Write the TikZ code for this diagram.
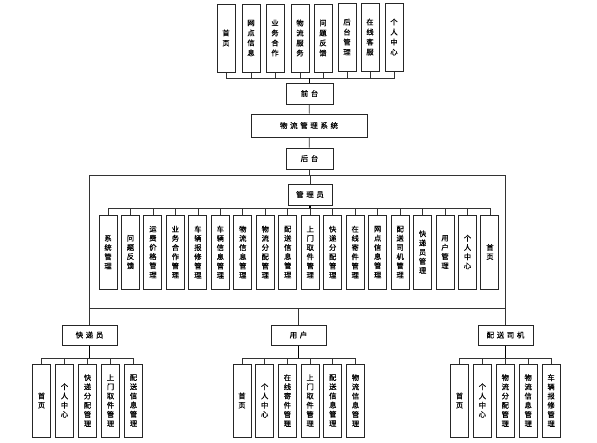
\documentclass[tikz,border=0pt]{standalone}
\usepackage{fontspec}
\newfontfamily\cjk[FakeBold=0.5]{Noto Sans CJK SC}
\newcommand\vfont{\cjk\fontsize{7.3}{10}\selectfont}
\newcommand\vfontb{\cjk\fontsize{7.3}{9.2}\selectfont}
\newcommand\hfont{\cjk\fontsize{7.5}{9}\selectfont}
\newcommand\gp{\hspace{2.6pt}}
\begin{document}
\begin{tikzpicture}[x=1pt,y=-1pt,
  vbox/.style={draw=black!85, line width=1pt, minimum width=18pt, inner sep=0pt, align=center, font=\vfont},
  vboxs/.style={vbox, font=\vfontb},
  hbox/.style={draw=black!85, line width=1pt, inner sep=0pt, font=\hfont},
  conn/.style={line width=0.7pt, draw=black!80},
  stem/.style={line width=1.3pt, draw=black}]
\useasboundingbox (0,0) rectangle (597,442);
% top row
\node[vbox, minimum height=68pt] (t1) at (226,38) {首\\页};
\node[vbox, minimum height=68pt] (t2) at (251,38) {网\\点\\信\\息};
\node[vbox, minimum height=68pt] (t3) at (275,38) {业\\务\\合\\作};
\node[vbox, minimum height=68pt] (t4) at (300,38) {物\\流\\服\\务};
\node[vbox, minimum height=68pt] (t5) at (323,38) {问\\题\\反\\馈};
\node[vbox, minimum height=68pt] (t6) at (347,37) {后\\台\\管\\理};
\node[vbox, minimum height=68pt] (t7) at (370,37) {在\\线\\客\\服};
\node[vbox, minimum height=68pt] (t8) at (394,37) {个\\人\\中\\心};
\node[hbox, minimum width=47pt, minimum height=21pt] (qt) at (309.5,93.5) {前\gp 台};
\node[hbox, minimum width=116pt, minimum height=23pt] (sys) at (309,125.5) {物\gp 流\gp 管\gp 理\gp 系\gp 统};
\node[hbox, minimum width=47pt, minimum height=21pt] (ht) at (309.5,158.5) {后\gp 台};
\coordinate (tb) at (309.5,78);
\draw[conn] (t1.south) -- (t1.south |- tb) -- (t8.south |- tb) -- (t8.south);
\foreach \i in {2,...,7} \draw[conn] (t\i.south) -- (t\i.south |- tb);
\draw[stem] (tb) -- (qt.north);
\draw[conn] (qt) -- (sys);
\draw[conn] (sys) -- (ht);
% admin
\node[hbox, minimum width=44pt, minimum height=21pt] (adm) at (310,194.5) {管\gp 理\gp 员};
\foreach \t [count=\i] in {系\\统\\管\\理, 问\\题\\反\\馈, 运\\费\\价\\格\\管\\理, 业\\务\\合\\作\\管\\理, 车\\辆\\报\\修\\管\\理, 车\\辆\\信\\息\\管\\理, 物\\流\\信\\息\\管\\理, 物\\流\\分\\配\\管\\理, 配\\送\\信\\息\\管\\理, 上\\门\\取\\件\\管\\理, 快\\递\\分\\配\\管\\理, 在\\线\\寄\\件\\管\\理, 网\\点\\信\\息\\管\\理, 配\\送\\司\\机\\管\\理, 快\\递\\员\\管\\理, 用\\户\\管\\理, 个\\人\\中\\心, 首\\页}
  \node[vboxs, minimum height=74pt] (a\i) at ({108+22.47*(\i-1)},252) {\t};
\coordinate (ab) at (310,208);
\draw[conn] (a1.north) -- (a1.north |- ab) -- (a18.north |- ab) -- (a18.north);
\foreach \i in {2,...,17} \draw[conn] (a\i.north) -- (a\i.north |- ab);
\draw[stem] (adm.south) -- (adm.south |- ab);
% roles
\node[hbox, minimum width=55pt, minimum height=20pt] (kd) at (89.5,335) {快\gp 递\gp 员};
\node[hbox, minimum width=55pt, minimum height=20pt] (yh) at (298.5,335) {用\gp 户};
\node[hbox, minimum width=55pt, minimum height=20pt] (ps) at (505.5,335) {配\gp 送\gp 司\gp 机};
\coordinate (ft) at (309.5,175);
\coordinate (mb) at (300,308);
\draw[conn] (ht.south) -- (ft);
\draw[conn] (kd.north) -- (kd.north |- ft) -- (ps.north |- ft) -- (ps.north);
\draw[conn] (adm.north) -- (adm.north |- ft);
\draw[conn] (kd.north |- mb) -- (ps.north |- mb);
\draw[conn] (yh.north) -- (yh.north |- mb);
% courier children
\foreach \t [count=\i] in {首\\页, 个\\人\\中\\心, 快\\递\\分\\配\\管\\理, 上\\门\\取\\件\\管\\理, 配\\送\\信\\息\\管\\理}
  \node[vboxs, minimum height=73pt] (k\i) at ({41.5+23*(\i-1)},400.5) {\t};
\coordinate (kb) at (89.5,358);
\draw[conn] (k1.north) -- (k1.north |- kb) -- (k5.north |- kb) -- (k5.north);
\foreach \i in {2,...,4} \draw[conn] (k\i.north) -- (k\i.north |- kb);
\draw[stem] (kd.south) -- (kd.south |- kb);
% user children
\foreach \t [count=\i] in {首\\页, 个\\人\\中\\心, 在\\线\\寄\\件\\管\\理, 上\\门\\取\\件\\管\\理, 配\\送\\信\\息\\管\\理, 物\\流\\信\\息\\管\\理}
  \node[vboxs, minimum height=73pt] (u\i) at ({242+22.7*(\i-1)},400.5) {\t};
\coordinate (ub) at (298.5,358);
\draw[conn] (u1.north) -- (u1.north |- ub) -- (u6.north |- ub) -- (u6.north);
\foreach \i in {2,...,5} \draw[conn] (u\i.north) -- (u\i.north |- ub);
\draw[stem] (yh.south) -- (yh.south |- ub);
% driver children
\foreach \t [count=\i] in {首\\页, 个\\人\\中\\心, 物\\流\\分\\配\\管\\理, 物\\流\\信\\息\\管\\理, 车\\辆\\报\\修\\管\\理}
  \node[vboxs, minimum height=73pt] (p\i) at ({459.5+22.9*(\i-1)},400.5) {\t};
\coordinate (pb) at (505.5,358);
\draw[conn] (p1.north) -- (p1.north |- pb) -- (p5.north |- pb) -- (p5.north);
\foreach \i in {2,...,4} \draw[conn] (p\i.north) -- (p\i.north |- pb);
\draw[stem] (ps.south) -- (ps.south |- pb);
\end{tikzpicture}
\end{document}
